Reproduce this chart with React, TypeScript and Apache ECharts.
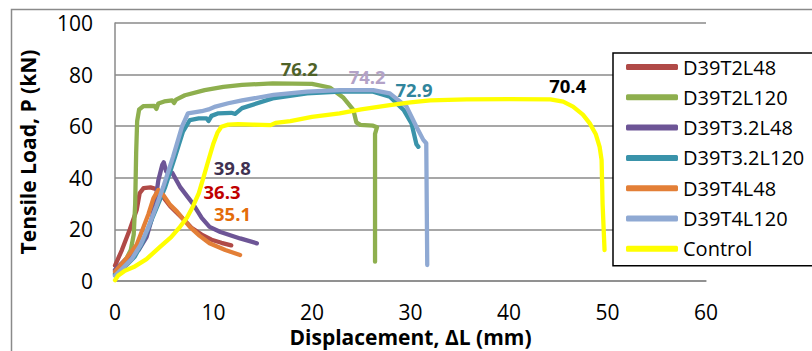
import React, { useEffect, useRef } from "react";
import * as echarts from "echarts";

const seriesNames = ["D39T2L48", "D39T2L120", "D39T3.2L48", "D39T3.2L120", "D39T4L48", "D39T4L120", "Control"];
const seriesColors = ["#b04a47", "#8eaf4e", "#6d5596", "#3a93aa", "#e37f37", "#8fa9d3", "#ffff00"];

const d39t2l48: number[][] = [[0, 6], [0.7, 12], [1.5, 20], [2.2, 27.5], [2.5, 34], [2.9, 36], [3.6, 36.3], [4.2, 35.6], [4.9, 32.5], [5.6, 29], [6.4, 26], [7.2, 23], [7.8, 20.5], [8.8, 18], [9.8, 16], [10.8, 14.8], [11.8, 13.8]];
const d39t2l120: number[][] = [[0, 3], [0.6, 6], [1.2, 9], [1.6, 12], [1.9, 18], [2.05, 30], [2.15, 50], [2.25, 62], [2.45, 66.5], [2.9, 67.8], [4.0, 67.9], [4.2, 66.7], [4.4, 68.8], [5.0, 69.6], [5.8, 70], [6.0, 69], [6.2, 70.3], [7.1, 72], [9.1, 74], [11, 75.2], [12.9, 76], [16, 76.6], [20, 76.4], [21.8, 75], [23.2, 71], [24.2, 66.3], [24.5, 61.5], [24.9, 60.5], [26.2, 60.2], [26.6, 59.6], [26.4, 57], [26.4, 7.5]];
const d39t32l48: number[][] = [[0, 4.3], [1.0, 8], [2.4, 12], [3.2, 17], [3.7, 23.6], [4.1, 31], [4.4, 39], [4.8, 45], [4.95, 46], [5.2, 42.5], [5.5, 41.5], [5.8, 42], [6.6, 36.5], [7.9, 30], [8.8, 24.5], [9.6, 21], [10.7, 19], [12.7, 16.5], [14.4, 14.6]];
const d39t32l120: number[][] = [[0, 2.5], [1.0, 5.5], [2.0, 9.4], [2.8, 15], [3.7, 23.6], [4.4, 30], [5.1, 36.5], [6.1, 48.2], [6.9, 57.9], [7.6, 62.4], [8.5, 63], [9.3, 63], [9.5, 62], [9.8, 64], [10.5, 65], [11.8, 65.2], [12.2, 64.8], [12.9, 67], [16, 70.8], [19.5, 72.7], [22.8, 73.4], [26.2, 73.4], [27.9, 71.4], [29.3, 66.3], [30.1, 61.1], [30.6, 53], [30.8, 52]];
const d39t4l48: number[][] = [[0, 3.6], [1.2, 9], [2.2, 14], [2.8, 20], [3.4, 26], [3.9, 32], [4.4, 35.3], [4.9, 33.3], [5.6, 29.5], [6.3, 26.9], [7.6, 21], [8.6, 17.5], [9.6, 14.6], [11.2, 12], [12.7, 10.1]];
const d39t4l120: number[][] = [[0, 2], [0.8, 5], [1.7, 8.5], [2.6, 14], [3.4, 21], [4.2, 29], [4.9, 36.5], [5.9, 48.2], [6.8, 59.8], [7.4, 65], [8.8, 65.8], [9.5, 66.5], [10.2, 67.6], [11.5, 68.9], [12.9, 70], [16.1, 72.1], [19.5, 73.4], [22.8, 74], [26.2, 74], [27.9, 72.7], [29.6, 67.6], [30.6, 59.8], [31.3, 54.7], [31.6, 53.4], [31.7, 6.2]];
const control: number[][] = [[0, 0.3], [0.3, 2], [1.0, 4], [1.9, 5.4], [3.2, 8.5], [4.6, 13.3], [5.7, 17], [6.6, 21], [7.3, 24.5], [7.9, 28.8], [8.5, 34], [9.0, 40.4], [9.5, 47], [10.0, 53.4], [10.4, 57.5], [10.8, 59.8], [11.5, 60.6], [12.5, 60.8], [14, 60.6], [15.8, 60.4], [16.3, 61.3], [17.8, 62], [20, 63.6], [22.8, 65], [25, 66.5], [27.9, 68.2], [30, 69.2], [32, 70], [35.7, 70.4], [40, 70.5], [44.2, 70.4], [45.5, 69.5], [46.5, 67.6], [47.5, 64.5], [48.2, 61.1], [48.8, 57], [49.2, 52], [49.4, 46.9], [49.5, 30], [49.7, 12]];

const seriesData = [d39t2l48, d39t2l120, d39t32l48, d39t32l120, d39t4l48, d39t4l120, control];

// peak annotations: position [x, y], text, colour
const peakLabels = ["36.3", "76.2", "39.8", "72.9", "35.1", "74.2", "70.4"];
const peakLabelPos: number[][] = [[10.86, 34.7], [18.7, 82.4], [11.9, 43.8], [30.35, 74.4], [11.93, 26.3], [25.6, 79.3], [45.96, 75.6]];
const peakLabelColors = ["#c00000", "#4f6228", "#403151", "#31859c", "#e46c0a", "#b3a2c7", "#000000"];

const xTicks = { min: 0, max: 60, interval: 10 };
const yTicks = { min: 0, max: 100, interval: 20 };

const FONT = "'Open Sans', sans-serif";

export default function App() {
  const ref = useRef<HTMLDivElement>(null);
  useEffect(() => {
    if (!ref.current) return;
    const chart = echarts.init(ref.current, undefined, { renderer: "svg" });
    const series = seriesNames.map((name, i) => ({
      name,
      type: "line",
      data: seriesData[i],
      showSymbol: false,
      symbol: "none",
      smooth: false,
      lineStyle: { color: seriesColors[i], width: 4.3, cap: "round", join: "round" },
      itemStyle: { color: seriesColors[i] },
      z: 2 + i,
      markPoint: {
        symbol: "circle",
        symbolSize: 0,
        silent: true,
        data: [{ coord: peakLabelPos[i], value: peakLabels[i] }],
        label: {
          show: true,
          position: "inside",
          formatter: peakLabels[i],
          color: peakLabelColors[i],
          fontFamily: FONT,
          fontWeight: "bold",
          fontSize: 18.5,
          lineHeight: 18,
        },
      },
    }));
    chart.setOption({
      animation: false,
      backgroundColor: "#fff",
      graphic: [
        {
          type: "rect",
          left: 9,
          top: 7,
          shape: { width: 900, height: 400 },
          style: { fill: "none", stroke: "#8a8a8a", lineWidth: 1.5 },
          z: 0,
          silent: true,
        },
      ],
      grid: { left: 115, right: 106, top: 23, bottom: 70, outerBoundsMode: "none", containLabel: false },
      legend: {
        orient: "vertical",
        left: 613,
        top: 53,
        data: seriesNames,
        icon: "roundRect",
        itemWidth: 52,
        itemHeight: 6,
        itemGap: 10.3,
        padding: [4, 30, 7, 13],
        borderColor: "#000",
        borderWidth: 1.5,
        backgroundColor: "#fff",
        textStyle: { fontFamily: FONT, fontSize: 20, color: "#000", lineHeight: 18 },
      },
      xAxis: {
        type: "value",
        min: xTicks.min,
        max: xTicks.max,
        interval: xTicks.interval,
        name: "Displacement, ΔL (mm)",
        nameLocation: "middle",
        nameGap: 41,
        nameTextStyle: { fontFamily: FONT, fontWeight: "bold", fontSize: 21, color: "#000" },
        axisLine: { show: true, lineStyle: { color: "#8a8a8a", width: 1.5 } },
        axisTick: { show: false },
        splitLine: { show: false },
        axisLabel: { fontFamily: FONT, fontSize: 21, color: "#000", margin: 20 },
      },
      yAxis: {
        type: "value",
        min: yTicks.min,
        max: yTicks.max,
        interval: yTicks.interval,
        name: "Tensile Load, P (kN)",
        nameLocation: "middle",
        nameGap: 77,
        nameTextStyle: { fontFamily: FONT, fontWeight: "bold", fontSize: 21, color: "#000" },
        axisLine: { show: true, lineStyle: { color: "#8a8a8a", width: 1.5 } },
        axisTick: { show: false },
        splitLine: { show: true, lineStyle: { color: "#8a8a8a", width: 1.5 } },
        axisLabel: { fontFamily: FONT, fontSize: 21, color: "#000", margin: 22 },
      },
      series,
    });
    return () => chart.dispose();
  }, []);
  return <div ref={ref} style={{ position: "fixed", left: 0, top: 0, width: 812, height: 351 }} />;
}
